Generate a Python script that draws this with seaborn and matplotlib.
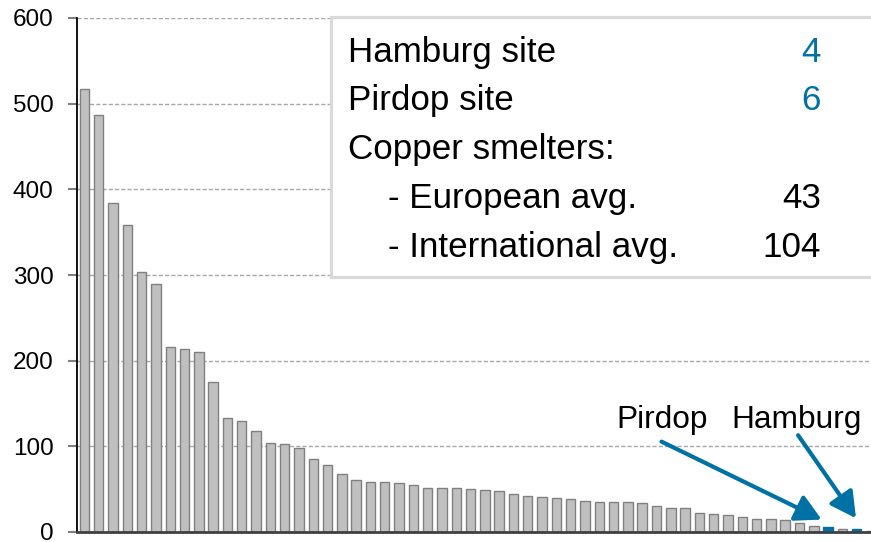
import matplotlib
matplotlib.use("Agg")
import matplotlib.pyplot as plt
from matplotlib.patches import Rectangle
import seaborn as sns
import pandas as pd

# ---- data ----
values = [517, 487, 384, 358, 303, 289, 216, 214, 210, 175,
          133, 129, 118, 104, 103, 98, 85, 78.6, 67.5, 60.3,
          58, 58, 57.2, 55.3, 51.8, 51.8, 51, 50.2, 49, 47.9,
          44.4, 42, 40.9, 40, 38.1, 36, 35.3, 35.3, 34.6, 33.5,
          30.3, 27.6, 27.6, 22.6, 21.4, 19.4, 17.5, 15.6, 15.6, 14,
          10.5, 7, 6, 3, 4, 1.5]
smelters = [f"S{i+1}" for i in range(len(values))]
highlight = {"S53": "Pirdop", "S55": "Hamburg"}
yticks = [0, 100, 200, 300, 400, 500, 600]
legend_rows = [("Hamburg site", "4", True, False),
               ("Pirdop site", "6", True, False),
               ("Copper smelters:", "", False, False),
               ("- European avg.", "43", False, True),
               ("- International avg.", "104", False, True)]

GRAY = "#C0C0C0"
GRAY_EDGE = "#808080"
BLUE = "#0071A4"

sns.set_theme(style="white")
plt.rcParams["font.family"] = ["Liberation Sans", "DejaVu Sans"]
plt.rcParams["text.color"] = "black"

W, H = 871, 542
fig = plt.figure(figsize=(W / 100, H / 100), dpi=100)
ax = fig.add_axes([77 / W, 10 / H, 1 - 77 / W, 514 / H])

df = pd.DataFrame({"smelter": smelters, "value": values})
colors = {s: (BLUE if s in highlight else GRAY) for s in smelters}
sns.barplot(data=df, x="smelter", y="value", hue="smelter", palette=colors,
            legend=False, width=0.66, ax=ax, zorder=3, saturation=1)
for patch, s in zip(ax.patches, smelters):
    patch.set_edgecolor(BLUE if s in highlight else GRAY_EDGE)
    patch.set_linewidth(1.0)

ax.set_xlim(-0.52, 55.0)
ax.set_ylim(0, 600)
ax.set_yticks(yticks)
ax.set_yticklabels([str(t) for t in yticks], fontsize=17.5)
ax.set_xticks([])
ax.set_xlabel("")
ax.set_ylabel("")
ax.tick_params(axis="y", left=True, length=6.5, width=1.5, color="#7f7f7f",
               pad=10.5, labelcolor="black")
ax.yaxis.grid(True, linestyle=(0, (3, 1.5)), color="#A8A8A8", linewidth=1.0, zorder=0)
ax.set_axisbelow(True)
for side in ["top", "right"]:
    ax.spines[side].set_visible(False)
ax.spines["left"].set_color("black")
ax.spines["left"].set_linewidth(1.3)
ax.spines["bottom"].set_color("#404040")
ax.spines["bottom"].set_linewidth(2.0)
ax.spines["bottom"].set_zorder(5)


def fx(px):
    return px / W


def fy(py):
    return 1 - py / H


# legend-like box
box = Rectangle((fx(331), fy(277)), 1, fy(17) - fy(277), transform=fig.transFigure,
                facecolor="white", edgecolor="#D9D9D9", linewidth=2.3, zorder=10,
                clip_on=False)
fig.patches.append(box)

baselines = [61.7, 110, 159.3, 208.3, 256.7]
for (label, num, blue, indent), by in zip(legend_rows, baselines):
    fig.text(fx(388 if indent else 348), fy(by), label, fontsize=25.2,
             va="baseline", ha="left", color="black", zorder=11)
    if num:
        fig.text(fx(821), fy(by), num, fontsize=25.2, va="baseline", ha="right",
                 color=BLUE if blue else "black", zorder=11)

# annotations
fig.text(fx(616), fy(427.7), "Pirdop", fontsize=22.8, va="baseline", ha="left",
         color="black")
fig.text(fx(731.5), fy(427.7), "Hamburg", fontsize=22.8, va="baseline", ha="left",
         color="black")

arrow_kw = dict(arrowstyle="-|>,head_length=1.3,head_width=0.7", color=BLUE,
                lw=3.0, shrinkA=0, shrinkB=0, mutation_scale=12)
ax.annotate("", xy=(51.55, 14.5), xytext=(40.35, 105.5), xycoords="data",
            textcoords="data", arrowprops=arrow_kw, annotation_clip=False, zorder=6)
ax.annotate("", xy=(53.95, 16), xytext=(49.9, 113), xycoords="data",
            textcoords="data", arrowprops=arrow_kw, annotation_clip=False, zorder=6)

fig.savefig("out.png", dpi=100)
